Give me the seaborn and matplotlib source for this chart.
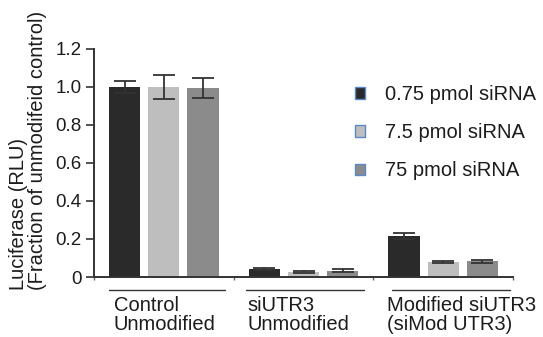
import matplotlib
matplotlib.use("Agg")
import matplotlib.pyplot as plt
import matplotlib.transforms as mtransforms
from matplotlib.patches import Patch
import seaborn as sns
import pandas as pd

# ---- data ----
groups = ["Control\nUnmodified", "siUTR3\nUnmodified", "Modified siUTR3\n(siMod UTR3)"]
doses = ["0.75 pmol siRNA", "7.5 pmol siRNA", "75 pmol siRNA"]
dose_low = [1.00, 0.042, 0.217]
dose_mid = [1.00, 0.025, 0.079]
dose_high = [0.995, 0.032, 0.082]
err_low = [0.03, 0.007, 0.016]
err_mid = [0.062, 0.005, 0.004]
err_high = [0.052, 0.008, 0.006]
yticks = [0, 0.2, 0.4, 0.6, 0.8, 1.0, 1.2]
ytick_labels = ["0", "0.2", "0.4", "0.6", "0.8", "1.0", "1.2"]
colors = ["#2a2a2a", "#bebebe", "#8b8b8b"]

values = [dose_low, dose_mid, dose_high]
errors = [err_low, err_mid, err_high]
rows = []
for d, vals, errs in zip(doses, values, errors):
    for g, v, e in zip(groups, vals, errs):
        rows.append({"group": g, "dose": d, "value": v, "err": e})
df = pd.DataFrame(rows)

sns.set_style("white")
plt.rcParams["font.family"] = ["Liberation Sans", "DejaVu Sans"]
ink = "#1c1c1c"

fig = plt.figure(figsize=(5.43, 3.37), dpi=100)
ax = fig.add_axes([94 / 543, 1 - 277 / 337, (513 - 94) / 543, (277 - 49) / 337])

sns.barplot(data=df, x="group", y="value", hue="dose", order=groups,
            hue_order=doses, palette=colors, width=0.84, gap=0.2,
            errorbar=None, saturation=1, legend=False, ax=ax)

bars = list(ax.patches)
for p in bars:
    p.set_edgecolor("none")
sub = df.set_index(["dose", "group"])
k = 0
for d in doses:
    for g in groups:
        p = bars[k]
        cx = p.get_x() + p.get_width() / 2
        ax.errorbar(cx, sub.loc[(d, g), "value"], yerr=sub.loc[(d, g), "err"],
                    fmt="none", ecolor="#333333", elinewidth=1.3,
                    capsize=8, capthick=1.3, zorder=3)
        k += 1

ax.set_xlim(-0.5, 2.5)
ax.set_ylim(0, 1.2)
ax.set_yticks(yticks)
ax.set_yticklabels(ytick_labels)
ax.set_xticks([])
ax.set_xticks([-0.5, 0.5, 1.5, 2.5], minor=True)
ax.set_xlabel("")
ax.set_ylabel("")
for s in ["top", "right"]:
    ax.spines[s].set_visible(False)
for s in ["left", "bottom"]:
    ax.spines[s].set_color("#333333")
    ax.spines[s].set_linewidth(1.4)
ax.tick_params(axis="y", which="major", left=True, length=6, width=1.2,
               color="#333333", labelsize=13.5, labelcolor=ink, pad=3)
ax.tick_params(axis="x", which="minor", bottom=True, length=2, width=1,
               color="#666666")

# group labels with overlines
trans = mtransforms.blended_transform_factory(ax.transData, ax.transAxes)
line_spans = [(-0.396, 0.44), (0.59, 1.43), (1.633, 2.475)]
text_x = [-0.36, 0.60, 1.595]
for g, (x0, x1), tx in zip(groups, line_spans, text_x):
    ax.plot([x0, x1], [-0.057, -0.057], transform=trans, color="#333333",
            lw=1.0, clip_on=False)
    ax.text(tx, -0.085, g, transform=trans, ha="left", va="top",
            fontsize=14.5, color=ink, linespacing=0.95)

# legend
handles = [Patch(facecolor=c, edgecolor="#5a88c8", linewidth=1.0) for c in colors]
fig.legend(handles, doses, loc="upper left",
           bbox_to_anchor=(337 / 543, 1 - 67 / 337), frameon=False,
           fontsize=14.5, handlelength=0.5, handleheight=0.5,
           handletextpad=1.0, labelspacing=0.95, labelcolor=ink)

fig.text(28 / 543, 47 / 337,
         "Luciferase (RLU)\n(Fraction of unmodifeid control)",
         rotation=90, ha="center", va="bottom", multialignment="left",
         fontsize=14.5, color=ink, linespacing=1.0)

fig.savefig("out.png", dpi=100)
